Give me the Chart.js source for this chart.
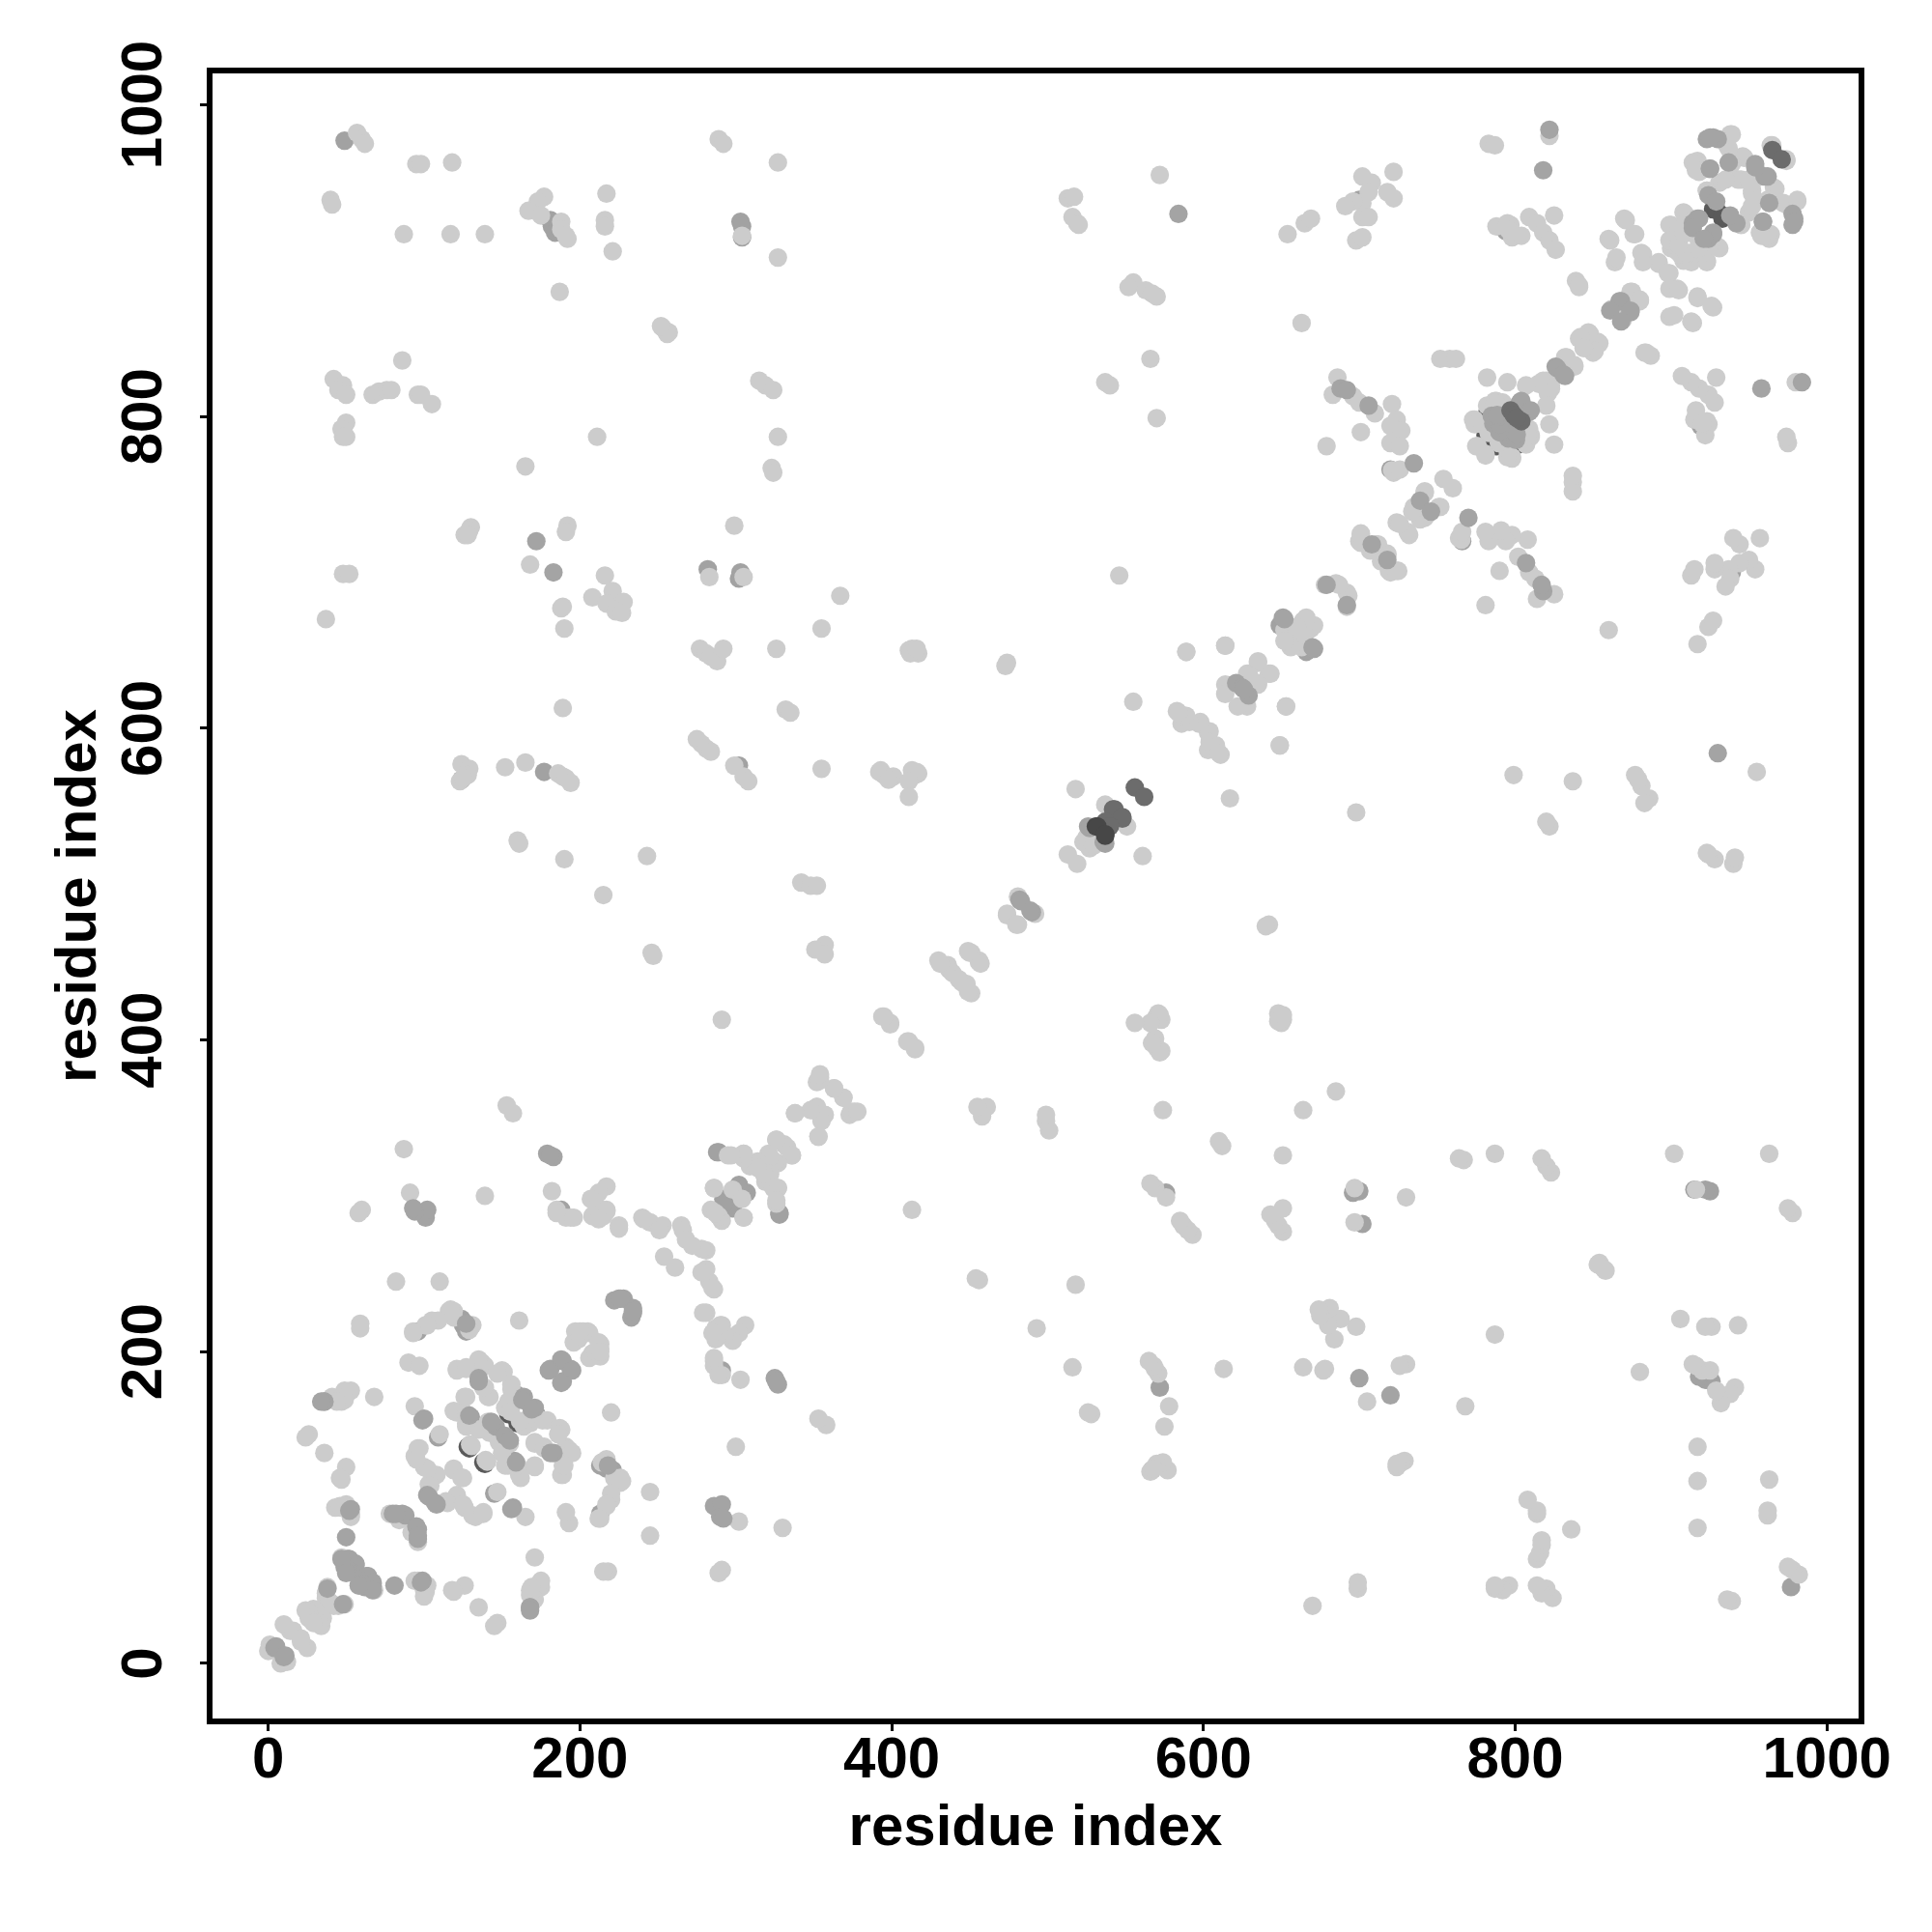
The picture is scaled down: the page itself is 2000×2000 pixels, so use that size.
<!DOCTYPE html>
<html><head><meta charset="utf-8">
<script src="https://cdn.jsdelivr.net/npm/chart.js@4"></script>
<style>html,body{margin:0;padding:0;background:#fff}canvas{display:block}</style>
</head><body><canvas id="c" width="2000" height="2000"></canvas>
<script>
const tickValues=[0,200,400,600,800,1000];
const axisTitle="residue index";
// residue contacts [i,j]; the contact map holds each contact at (i,j) and (j,i)
const underDarkContacts=[[128,139],[129,138],[154,160],[927,933],[929,933],[785,807],[781,788],[782,788],[798,801],[784,801],[786,807],[782,802],[784,794],[788,788],[793,788],[783,799],[798,788],[787,800]];
const underContacts=[[49,977],[181,926],[182,922],[184,918],[303,925],[304,922],[304,915],[124,567],[224,681],[302,696],[303,700],[282,702],[302,576],[177,572],[96,213],[124,221],[125,217],[127,213],[288,328],[302,307],[304,302],[292,298],[295,292],[328,289],[188,291],[130,158],[144,152],[160,172],[109,145],[700,939],[649,666],[793,788],[794,919],[720,766]];
const lightContacts=[[57,982],[60,978],[62,975],[95,962],[98,962],[118,963],[40,939],[41,936],[87,917],[117,917],[139,917],[177,941],[173,938],[167,932],[175,929],[188,925],[188,920],[191,916],[192,914],[217,943],[216,926],[216,922],[221,906],[289,978],[292,975],[327,963],[327,902],[304,916],[187,880],[253,857],[255,855],[257,854],[256,853],[252,858],[86,836],[42,824],[48,820],[45,817],[50,814],[67,814],[71,816],[76,817],[79,817],[96,814],[98,814],[105,808],[50,796],[47,792],[48,787],[50,787],[315,823],[319,820],[324,817],[211,787],[327,787],[323,767],[324,764],[165,768],[130,729],[126,724],[129,727],[128,724],[192,730],[191,726],[299,730],[168,705],[283,697],[305,697],[48,699],[52,699],[37,670],[216,698],[208,684],[221,688],[217,680],[228,681],[223,675],[227,674],[189,678],[188,677],[190,664],
[355,664],[277,651],[281,648],[284,646],[288,643],[292,651],[326,651],[189,613],[332,612],[335,610],[124,577],[129,574],[128,570],[123,566],[125,568],[152,575],[165,578],[186,571],[189,569],[191,568],[194,565],[275,593],[278,590],[281,587],[284,585],[299,576],[305,569],[308,566],[355,574],[160,528],[161,526],[190,516],[243,518],[215,493],[342,501],[348,499],[352,499],[246,456],[247,454],[357,461],[351,458],[357,455],[291,413],[354,376],[352,373],[363,369],[369,363],[374,354],[378,354],[153,358],[157,353],[338,353],[352,357],[349,355],[357,352],[355,348],[353,338],[87,330],[295,326],[305,327],[326,336],[331,333],[336,326],[321,327],[325,322],[314,322],[309,319],[318,314],[286,305],[298,304],[324,305],[327,305],[284,291],[305,286],[289,287],[326,297],[91,302],[60,291],[58,289],[139,300],[182,303],[185,291],[194,286],[217,306],[212,302],[207,298],[211,293],[208,287],[217,291],[215,287],[225,281],[240,286],[245,283],[253,281],[265,281],
[191,286],[185,289],[196,286],[209,288],[217,290],[212,285],[225,279],[241,285],[251,278],[266,278],[268,272],[254,261],[82,245],[110,245],[59,218],[59,215],[93,213],[101,217],[105,220],[116,226],[119,226],[129,216],[161,220],[197,213],[202,213],[205,213],[199,208],[196,206],[206,212],[200,210],[200,213],[90,193],[97,191],[121,189],[127,189],[135,194],[139,191],[150,188],[139,177],[142,171],[156,179],[126,171],[119,162],[152,164],[154,168],[94,165],[156,176],[151,187],[147,186],[137,193],[135,195],[121,188],[127,190],[141,171],[138,177],[127,171],[121,161],[127,160],[127,152],[141,155],[156,165],[142,148],[135,150],[127,154],[155.5,161.5],[129.5,140.5],[130.5,139.5],[96,138],[94,133],[100,126],[108,121],[119,125],[119,124],[103,115],[104,114],[102,125],[95,131],[97,138],[68,171],[49,175],[47,168],[41,171],[26,147],[24,145],[36,135],[50,126],[46,119],[131,217],[129,214],[119,222],[117,227],[109,220],[102,217],[93,212],[110,147],[47,100],[43,100],[53,94],[78,96],[84,92],[47,68],[53,96],[50,102],[46,101],[47,118],[53,175],[49,169],[44,168],[38,49],[37,45],[37,42],[39,40],[24,34],[29,35],[30,34],[26,33],[26,29],[10,25],[14,21],[16,21],[0,8],[1,12],[1,9],
[783,975],[787,974],[822,980],[788,922],[795,924],[797,923],[800,916],[798,915],[804,916],[795.5,920],[809,928],[814,924],[818,918],[822,913],[826,907],[825,929],[870,927],[876,917],[860,914],[864,899],[839,887],[841,883],[882,904],[892,899],[892,898],[882,899],[881,905],[877,917],[871,926],[865,902],[861,913],[874,880],[875,880],[862,869],[841,884],[841,850],[848,853],[847,854],[842,851],[844,844],[832,838],[833,838],[820,823],[818,823],[815,821],[807,820],[795,822],[782,825],[758,837],[752,837],[762,837],[773,798],[775,781],[776,781],[774,798],[774,795],[787,810],[782,807],[788,810],[779,795],[794,804],[792,809],[783,789.5],[787,808.5],[800,802.5],[786,803.5],[788,808],
[938,981],[936,974],[964,974],[965,974],[914,963],[917,964],[918,957],[947,966],[946,967],[945,952],[931,950],[923,945],[943,952],[935,952],[939,962],[937,972],[939,981],[916,962],[916,958],[923,945],[908,931],[899,923],[904,916],[900,913],[900,908],[904,906],[899,913],[900,923],[909,930],[950,952],[905,920],[910,925],[905,912],[912,918],[910,905],[918,908],
[572,955],[513,940],[517,941],[516,928],[519,924],[520,923],[654,917],[665,924],[669,927],[702,954],[708,950],[722,957],[706,944],[702,937],[696,938],[691,935],[718,944],[722,940],[702,928],[706,928],[698,913],[702,915],[555,886],[552,883],[563,881],[567,879],[570,877],[663,860],[566,837],[537,822],[540,820],[570,799],[686,825],[683,814],[696,813],[700,809],[710,802],[701,790],[679,781],[721,808],[724,798],[720,794],[727,791],[720,783],[726,781],[722,764],[721,765.5],[726,766],[742,752],[735,742],[751,742],[739,734],[724,732],[731,726],[754,760],[701,725],[700,720],[712,718],[718,711],[715,709],[719,701],[724,701],[707,714],[685,693],[692,687],[692,678],[546,698],[367,685],[413,651],[417,648],[415,649],[411,650],[412,648],[416,651],[474,642],[473,640],[589,649],[614,653],[652,663],[659,660],[664,669],[671,666],[656,652],[665,660],[635,642],[643,635],[628,635],[635,629],[614,628],
[555,617],[653,614],[649,589],[583,611],[589,608],[586,603],[597,603],[604,598],[604,591],[608,588],[610,584],[614,622],[629,634],[518,561],[537,551],[523,527],[525,530],[513,519],[481,492],[474,481],[474,480],[451,456],[450,456],[430,451],[436,448],[393,573],[401,569],[413,573],[417,571],[415,570],[416,572],[411,566],[411,556],[394,415],[399,411],[399,410],[395,415],[437,445],[439,443],[431,449],[449,457],[395,570],[392,572],[398,567]];
const midContacts=[[100,157],[146,152],[143,155],[129,159],[135,183],[164,171],[163,169],[135,181],[172,720],[183,700],[179,327],[183,325],[181,326],[101,286],[102,291],[94,290],[93,292],[181,189],[189,194],[188,195],[180,188],[225,234],[228,234],[222,233],[226,234],[36,168],[53,99],[80,96],[86,96],[88,95],[82,96],[50,81],[51,67],[49,62],[56,64],[56,63],[52,67],[52,98],[36,168],[34,168],[38,48],[4,10],[5,11],[53,59],[51,60],[47,67],[58,50],[99,156],[127,218],[822,984],[818,958],[923,978],[927,979],[930,978],[937,963],[954,962],[960,954],[925,959],[924,942],[938,929],[959,925],[925,979],[917,927],[914,924],[918,927],[914,921],[867,874],[868,874],[861,868],[826,832],[827,831],[803,809],[804,810],[786,795.5],[790,790],[795,790],[785,800.5],[800,790],[788.5,801],[584,930],[688,818],[692,817],[706,807],[735,770],[739,746],[708,718],[679,692],[651,671],[652,670],[621,629],[625,626],[482,490],[483,489],[526,537],[527,536],[102,108],[103,107]];
const darkContacts=[[965,971],[556,562],[542,548],[543,548],[537,540],[797,804],[799,801]];
const deepContacts=[[531,537],[532,537]];

const both=list=>list.flatMap(([i,j])=>[{x:i,y:j},{x:j,y:i}]);
// order: a higher value is painted first, so the dark contacts lie on top
const layer=(list,color,order)=>({data:both(list),order,backgroundColor:color,borderWidth:0,pointRadius:9.6,pointHoverRadius:9.6,showLine:false});
const font={family:"'Liberation Sans'",size:60,weight:'bold'};
const setTicks=s=>{s.ticks=tickValues.map(v=>({value:v}));};
const frame={id:'frame',afterDraw(ch){const {ctx,chartArea:a}=ch;ctx.save();ctx.strokeStyle='#000';ctx.lineWidth=6;ctx.strokeRect(a.left,a.top,a.right-a.left,a.bottom-a.top);ctx.restore();}};
new Chart(document.getElementById('c'),{type:'scatter',
 data:{datasets:[layer(underDarkContacts,'#5a5a5a',6),layer(underContacts,'#a2a2a2',5),layer(lightContacts,'#cccccc',4),layer(midContacts,'#a4a4a4',3),layer(darkContacts,'#6c6c6c',2),layer(deepContacts,'#474747',1)]},
 options:{responsive:false,animation:false,events:[],
  layout:{padding:{left:0,top:73,right:73,bottom:0}},
  plugins:{legend:{display:false},tooltip:{enabled:false}},
  scales:{
   x:{type:'linear',min:-37.6,max:1022.2,afterBuildTicks:setTicks,afterFit(s){s.height=218;},
      border:{display:false},grid:{drawOnChartArea:false,drawTicks:true,tickLength:10,tickWidth:3,tickColor:'#000'},
      ticks:{font,color:'#000',padding:-5,maxRotation:0,minRotation:0,autoSkip:false,callback:v=>String(v)},
      title:{display:true,text:axisTitle,font,color:'#000',padding:{top:0,bottom:71}}},
   y:{type:'linear',min:-37.2,max:1022,afterBuildTicks:setTicks,afterFit(s){s.width=217;},
      border:{display:false},grid:{drawOnChartArea:false,drawTicks:true,tickLength:10,tickWidth:3,tickColor:'#000'},
      ticks:{font,color:'#000',padding:-10,crossAlign:'center',minRotation:90,maxRotation:90,autoSkip:false,callback:v=>String(v)},
      title:{display:true,text:axisTitle,font,color:'#000',padding:{top:46,bottom:0}}}
  }},
 plugins:[frame]});
</script></body></html>
